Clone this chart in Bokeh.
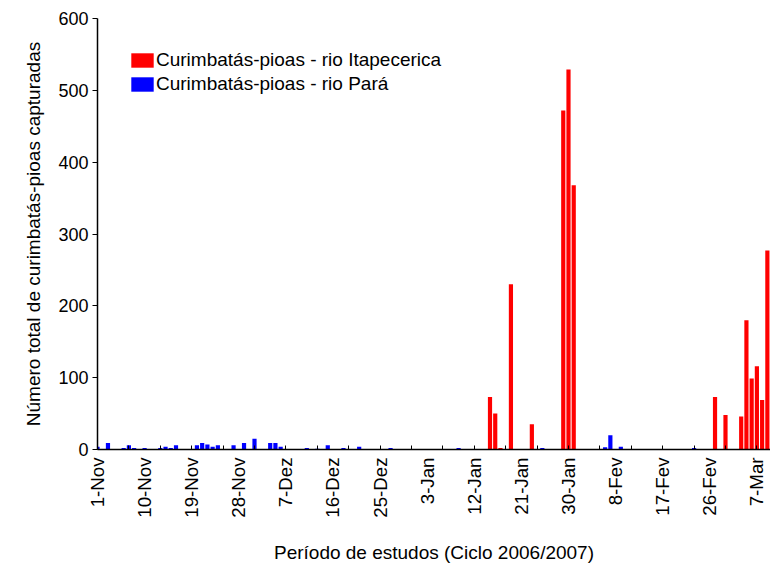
import datetime as dt
import math
from bokeh.plotting import figure
from bokeh.models import ColumnDataSource, FixedTicker, Range1d
from bokeh.embed import file_html
from bokeh.resources import INLINE

START = dt.date(2006, 11, 1)
MONTHS_PT = {1: "Jan", 2: "Fev", 3: "Mar", 11: "Nov", 12: "Dez"}

# Curimbatás-pioas - rio Itapecerica
itapecerica_dates = ["2007-01-15", "2007-01-16", "2007-01-17", "2007-01-19", "2007-01-23",
                     "2007-01-29", "2007-01-30", "2007-01-31", "2007-02-27", "2007-03-01",
                     "2007-03-04", "2007-03-05", "2007-03-06", "2007-03-07", "2007-03-08",
                     "2007-03-09"]
itapecerica_counts = [73, 50, 2, 230, 35, 472, 529, 368, 73, 48, 46, 180, 99, 116, 69, 277]

# Curimbatás-pioas - rio Pará
para_dates = ["2006-11-01", "2006-11-03", "2006-11-06", "2006-11-07", "2006-11-08",
              "2006-11-10", "2006-11-13", "2006-11-14", "2006-11-15", "2006-11-16",
              "2006-11-20", "2006-11-21", "2006-11-22", "2006-11-23", "2006-11-24",
              "2006-11-27", "2006-11-29", "2006-12-01", "2006-12-04", "2006-12-05",
              "2006-12-06", "2006-12-11", "2006-12-13", "2006-12-15", "2006-12-18",
              "2006-12-21", "2006-12-27", "2007-01-09", "2007-01-25", "2007-02-06",
              "2007-02-07", "2007-02-09", "2007-02-23"]
para_counts = [4, 9, 2, 6, 2, 2, 2, 4, 2, 6, 6, 9, 7, 4, 6, 6, 9, 15, 9, 9, 4, 2, 1, 6,
               2, 4, 2, 2, 2, 3, 20, 4, 2]

label_dates = ["2006-11-01", "2006-11-10", "2006-11-19", "2006-11-28", "2006-12-07",
               "2006-12-16", "2006-12-25", "2007-01-03", "2007-01-12", "2007-01-21",
               "2007-01-30", "2007-02-08", "2007-02-17", "2007-02-26", "2007-03-07"]
y_ticks = [0, 100, 200, 300, 400, 500, 600]

FONT = "Liberation Sans"


def day(s):
    return (dt.date.fromisoformat(s) - START).days


def label(s):
    d = dt.date.fromisoformat(s)
    return f"{d.day}-{MONTHS_PT[d.month]}"


itap_src = ColumnDataSource(dict(day=[day(s) for s in itapecerica_dates], count=itapecerica_counts))
para_src = ColumnDataSource(dict(day=[day(s) for s in para_dates], count=para_counts))

p = figure(width=770, height=566, x_range=Range1d(0, 128.6), y_range=Range1d(0, 600),
           output_backend="svg", toolbar_location=None,
           min_border_left=97, min_border_right=0, min_border_top=18, min_border_bottom=117)
p.outline_line_color = None
p.xgrid.visible = False
p.ygrid.visible = False
p.background_fill_color = "white"
p.border_fill_color = "white"

p.vbar(x="day", top="count", width=0.8, source=itap_src, fill_color="#ff0000",
       line_color=None, legend_label="Curimbatás-pioas - rio Itapecerica")
p.vbar(x="day", top="count", width=0.8, source=para_src, fill_color="#0000ff",
       line_color=None, legend_label="Curimbatás-pioas - rio Pará")

label_days = [day(s) for s in label_dates]
minor_days = list(range(0, 129, 6))
xa = p.xaxis[0]
xa.ticker = FixedTicker(ticks=label_days, minor_ticks=minor_days)
xa.major_label_overrides = {d: label(s) for d, s in zip(label_days, label_dates)}
xa.major_label_orientation = math.pi / 2
xa.major_tick_in = 0
xa.major_tick_out = 0
xa.minor_tick_in = 4
xa.minor_tick_out = 0
xa.minor_tick_line_color = "black"
xa.major_label_standoff = 8
xa.major_label_text_font = FONT
xa.major_label_text_font_size = "18.7px"
xa.major_label_text_color = "black"
xa.axis_line_color = "black"
xa.axis_line_width = 1.5
xa.axis_label = "Período de estudos (Ciclo 2006/2007)"
xa.axis_label_text_font = FONT
xa.axis_label_text_font_size = "19px"
xa.axis_label_text_font_style = "normal"
xa.axis_label_text_color = "black"
xa.axis_label_standoff = 21

ya = p.yaxis[0]
ya.ticker = FixedTicker(ticks=y_ticks)
ya.major_tick_in = 0
ya.major_tick_out = 5
ya.minor_tick_in = 0
ya.minor_tick_out = 0
ya.major_label_standoff = 4
ya.major_label_text_font = FONT
ya.major_label_text_font_size = "18px"
ya.major_label_text_color = "black"
ya.axis_line_color = "black"
ya.axis_line_width = 1.5
ya.axis_label = "Número total de curimbatás-pioas capturadas"
ya.axis_label_text_font = FONT
ya.axis_label_text_font_size = "19px"
ya.axis_label_text_font_style = "normal"
ya.axis_label_text_color = "black"
ya.axis_label_standoff = 11

lg = p.legend[0]
lg.location = "top_left"
lg.margin = 31
lg.padding = 0
lg.spacing = 2
lg.glyph_width = 28
lg.glyph_height = 18
lg.label_height = 18
lg.label_standoff = 0
lg.label_text_font = FONT
lg.label_text_font_size = "19px"
lg.label_text_color = "black"
lg.background_fill_alpha = 0
lg.border_line_color = None

open("out.html", "w").write(file_html(p, INLINE))
